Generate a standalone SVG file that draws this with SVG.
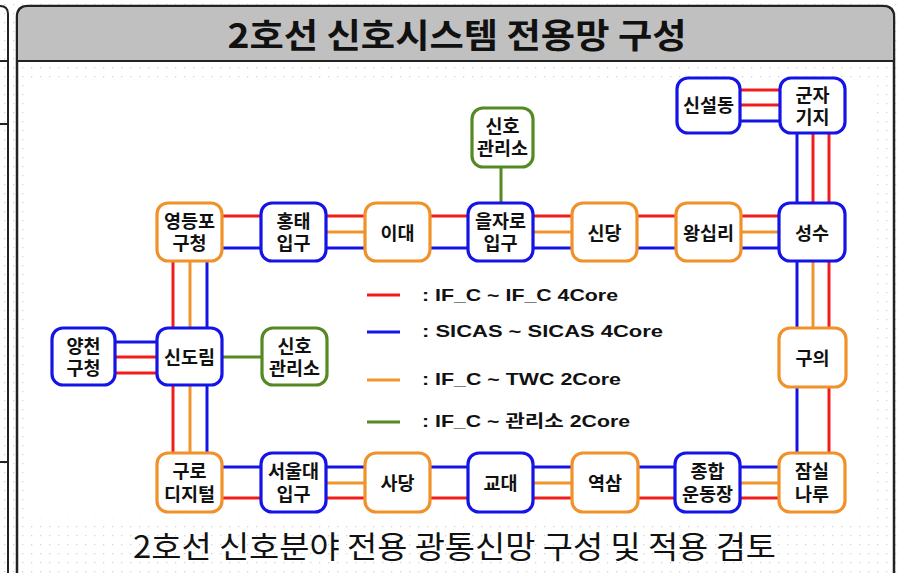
<svg xmlns="http://www.w3.org/2000/svg" width="898" height="573" viewBox="0 0 898 573">
<defs>
<pattern id="dots" width="9" height="9" patternUnits="userSpaceOnUse">
<rect x="4" y="4" width="1.3" height="1.3" fill="#d4d4d4"/>
</pattern>
<style>
.nb{fill:#fff;stroke-width:3.2}
.bl{stroke:#1414e6}
.or{stroke:#f0912a}
.gr{stroke:#558a22}
.t{font-family:"Liberation Sans","Noto Sans CJK KR",sans-serif;font-weight:bold;font-size:18.5px;fill:#111;text-anchor:middle}
.c line{stroke-width:3}
.r{stroke:#f01c1c}
.b{stroke:#1414e6}
.o{stroke:#f0952e}
.g{stroke:#558a22}
.lg{font-family:"Liberation Sans","Noto Sans CJK KR",sans-serif;font-weight:bold;font-size:17px;fill:#111}
</style>
</defs>
<rect width="898" height="573" fill="#fff"/>
<rect width="898" height="573" fill="url(#dots)"/>
<g fill="none" stroke="#222" stroke-width="2">
<path d="M0 6 Q8 6 8 14 V573"/>
<line x1="0" y1="61" x2="8" y2="61"/>
<line x1="0" y1="124" x2="8" y2="124"/>
<line x1="0" y1="462" x2="8" y2="462"/>
</g>
<path d="M17 573 V17 Q17 6 28 6 H883 Q894 6 894 17 V573" fill="none" stroke="#222" stroke-width="2.5"/>
<path d="M18.2 61 V17 Q18.2 7.2 28 7.2 H883 Q892.8 7.2 892.8 17 V61 Z" fill="#c0c0c0"/>
<line x1="17" y1="61" x2="894" y2="61" stroke="#222" stroke-width="2"/>
<text x="457" y="47.5" font-family="'Noto Sans CJK KR','Noto Sans',sans-serif" font-weight="bold" font-size="34" text-anchor="middle" fill="#111" textLength="459" lengthAdjust="spacingAndGlyphs">2호선 신호시스템 전용망 구성</text>
<rect x="24" y="79" width="852" height="439" fill="#fff"/>

<g id="connectors" class="c">
<line class="r" x1="222" y1="216" x2="261" y2="216"/><line class="b" x1="222" y1="248" x2="261" y2="248"/>
<line class="r" x1="326" y1="216" x2="365" y2="216"/><line class="o" x1="326" y1="232" x2="365" y2="232"/><line class="b" x1="326" y1="248" x2="365" y2="248"/>
<line class="r" x1="430" y1="216" x2="468" y2="216"/><line class="b" x1="430" y1="248" x2="468" y2="248"/>
<line class="r" x1="533" y1="216" x2="572" y2="216"/><line class="o" x1="533" y1="232" x2="572" y2="232"/><line class="b" x1="533" y1="248" x2="572" y2="248"/>
<line class="r" x1="637" y1="216" x2="676" y2="216"/><line class="b" x1="637" y1="248" x2="676" y2="248"/>
<line class="r" x1="741" y1="216" x2="779" y2="216"/><line class="o" x1="741" y1="232" x2="779" y2="232"/><line class="b" x1="741" y1="248" x2="779" y2="248"/>
<line class="g" x1="501" y1="167" x2="501" y2="203"/>
<line class="r" x1="740" y1="90" x2="780" y2="90"/><line class="r" x1="740" y1="105" x2="780" y2="105"/><line class="b" x1="740" y1="121" x2="780" y2="121"/>
<line class="b" x1="797" y1="133" x2="797" y2="203"/><line class="r" x1="813" y1="133" x2="813" y2="203"/><line class="r" x1="829" y1="133" x2="829" y2="203"/>
<line class="b" x1="797" y1="261" x2="797" y2="328"/><line class="o" x1="813" y1="261" x2="813" y2="328"/><line class="r" x1="829" y1="261" x2="829" y2="328"/>
<line class="b" x1="797" y1="387" x2="797" y2="453"/><line class="r" x1="829" y1="387" x2="829" y2="453"/>
<line class="r" x1="173" y1="261" x2="173" y2="328"/><line class="o" x1="190" y1="261" x2="190" y2="328"/><line class="b" x1="207" y1="261" x2="207" y2="328"/>
<line class="r" x1="173" y1="385" x2="173" y2="453"/><line class="o" x1="190" y1="385" x2="190" y2="453"/><line class="b" x1="207" y1="385" x2="207" y2="453"/>
<line class="b" x1="115" y1="342" x2="157" y2="342"/><line class="r" x1="115" y1="357" x2="157" y2="357"/><line class="r" x1="115" y1="373" x2="157" y2="373"/>
<line class="g" x1="222" y1="357" x2="262" y2="357"/>
<line class="b" x1="222" y1="467" x2="261" y2="467"/><line class="r" x1="222" y1="498" x2="261" y2="498"/>
<line class="b" x1="326" y1="467" x2="365" y2="467"/><line class="o" x1="326" y1="483" x2="365" y2="483"/><line class="r" x1="326" y1="498" x2="365" y2="498"/>
<line class="b" x1="430" y1="467" x2="468" y2="467"/><line class="r" x1="430" y1="498" x2="468" y2="498"/>
<line class="b" x1="533" y1="467" x2="572" y2="467"/><line class="o" x1="533" y1="483" x2="572" y2="483"/><line class="r" x1="533" y1="498" x2="572" y2="498"/>
<line class="b" x1="638" y1="467" x2="675" y2="467"/><line class="r" x1="638" y1="498" x2="675" y2="498"/>
<line class="b" x1="740" y1="467" x2="779" y2="467"/><line class="o" x1="740" y1="483" x2="779" y2="483"/><line class="r" x1="740" y1="498" x2="779" y2="498"/>
</g>

<g id="n_yeongdeungpo"><rect class="nb or" x="157" y="203" width="65" height="58" rx="11"/><text class="t"><tspan x="189.5" y="228">영등포</tspan><tspan x="189.5" y="250">구청</tspan></text></g>
<g id="n_hongdae"><rect class="nb bl" x="261" y="203" width="65" height="58" rx="11"/><text class="t"><tspan x="293.5" y="228">홍태</tspan><tspan x="293.5" y="250">입구</tspan></text></g>
<g id="n_ewha"><rect class="nb or" x="365" y="203" width="65" height="58" rx="11"/><text class="t" x="397.5" y="240">이대</text></g>
<g id="n_euljiro"><rect class="nb bl" x="468" y="203" width="65" height="58" rx="11"/><text class="t"><tspan x="500.5" y="228">을자로</tspan><tspan x="500.5" y="250">입구</tspan></text></g>
<g id="n_sindang"><rect class="nb or" x="572" y="203" width="65" height="58" rx="11"/><text class="t" x="604.5" y="240">신당</text></g>
<g id="n_wangsimni"><rect class="nb or" x="676" y="203" width="65" height="58" rx="11"/><text class="t" x="708.5" y="240">왕십리</text></g>
<g id="n_seongsu"><rect class="nb bl" x="779" y="203" width="66" height="58" rx="11"/><text class="t" x="812" y="240">성수</text></g>
<g id="n_control_top"><rect class="nb gr" x="472" y="108" width="61" height="59" rx="11"/><text class="t"><tspan x="502.5" y="133">신호</tspan><tspan x="502.5" y="155">관리소</tspan></text></g>
<g id="n_sinseoldong"><rect class="nb bl" x="677" y="78" width="63" height="55" rx="11"/><text class="t" x="708.5" y="112">신설동</text></g>
<g id="n_gunja"><rect class="nb bl" x="780" y="78" width="65" height="55" rx="11"/><text class="t"><tspan x="812.5" y="102">군자</tspan><tspan x="812.5" y="124">기지</tspan></text></g>
<g id="n_guui"><rect class="nb or" x="779" y="328" width="67" height="59" rx="11"/><text class="t" x="812.5" y="365">구의</text></g>
<g id="n_yangcheon"><rect class="nb bl" x="52" y="328" width="63" height="57" rx="11"/><text class="t"><tspan x="83.5" y="353">양천</tspan><tspan x="83.5" y="375">구청</tspan></text></g>
<g id="n_sindorim"><rect class="nb bl" x="157" y="328" width="65" height="57" rx="11"/><text class="t" x="189.5" y="364">신도림</text></g>
<g id="n_control_left"><rect class="nb gr" x="262" y="328" width="65" height="57" rx="11"/><text class="t"><tspan x="294.5" y="353">신호</tspan><tspan x="294.5" y="375">관리소</tspan></text></g>
<g id="n_guro"><rect class="nb or" x="157" y="453" width="65" height="59" rx="11"/><text class="t"><tspan x="189.5" y="478">구로</tspan><tspan x="189.5" y="501">디지털</tspan></text></g>
<g id="n_snu"><rect class="nb bl" x="261" y="453" width="65" height="59" rx="11"/><text class="t"><tspan x="293.5" y="478">서울대</tspan><tspan x="293.5" y="501">입구</tspan></text></g>
<g id="n_sadang"><rect class="nb or" x="365" y="453" width="65" height="59" rx="11"/><text class="t" x="397.5" y="490">사당</text></g>
<g id="n_gyodae"><rect class="nb bl" x="468" y="453" width="65" height="59" rx="11"/><text class="t" x="500.5" y="490">교대</text></g>
<g id="n_yeoksam"><rect class="nb or" x="572" y="453" width="66" height="59" rx="11"/><text class="t" x="605" y="490">역삼</text></g>
<g id="n_sports"><rect class="nb bl" x="675" y="453" width="65" height="59" rx="11"/><text class="t"><tspan x="707.5" y="478">종합</tspan><tspan x="707.5" y="501">운동장</tspan></text></g>
<g id="n_jamsilnaru"><rect class="nb or" x="779" y="453" width="66" height="59" rx="11"/><text class="t"><tspan x="812" y="478">잠실</tspan><tspan x="812" y="501">나루</tspan></text></g>

<g id="legend">
<line class="r" x1="367" y1="295" x2="400" y2="295" stroke-width="3"/>
<line class="b" x1="367" y1="332" x2="400" y2="332" stroke-width="3"/>
<line class="o" x1="367" y1="380" x2="400" y2="380" stroke-width="3"/>
<line class="g" x1="367" y1="422" x2="400" y2="422" stroke-width="3"/>
<text class="lg" x="422" y="301" textLength="196" lengthAdjust="spacingAndGlyphs">: IF_C ~ IF_C 4Core</text>
<text class="lg" x="422" y="337" textLength="241" lengthAdjust="spacingAndGlyphs">: SICAS ~ SICAS 4Core</text>
<text class="lg" x="422" y="385" textLength="199" lengthAdjust="spacingAndGlyphs">: IF_C ~ TWC 2Core</text>
<text class="lg" x="422" y="427" textLength="208" lengthAdjust="spacingAndGlyphs">: IF_C ~ 관리소 2Core</text>
</g>

<text x="133" y="558" font-family="'Noto Sans CJK KR','Noto Sans',sans-serif" font-size="31" fill="#111" textLength="643" lengthAdjust="spacingAndGlyphs">2호선 신호분야 전용 광통신망 구성 및 적용 검토</text>
</svg>
